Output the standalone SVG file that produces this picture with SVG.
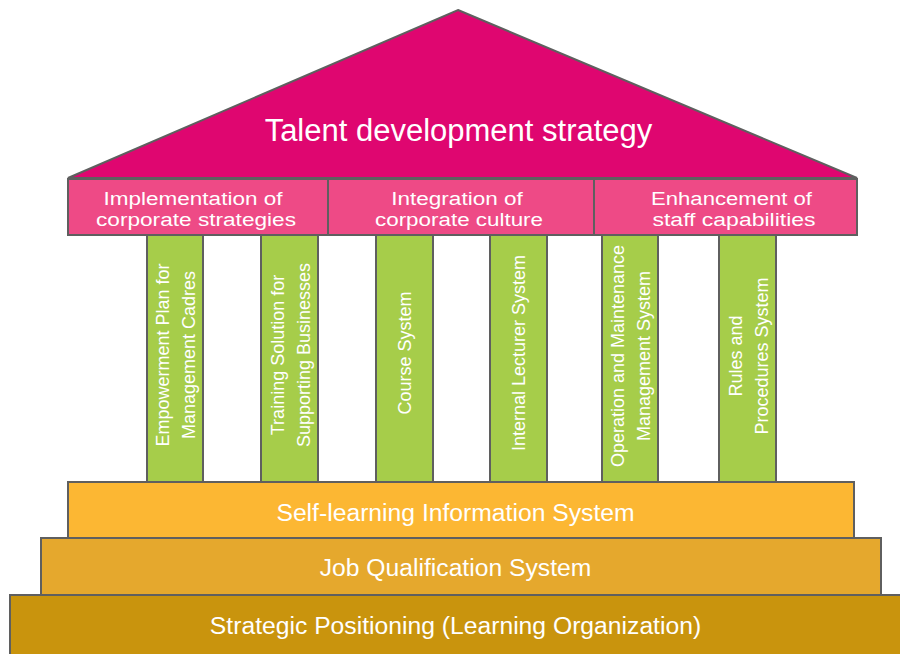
<svg xmlns="http://www.w3.org/2000/svg" width="900" height="654" viewBox="0 0 900 654">
<style>
.s{stroke:#5f5f5f;stroke-width:2}
.t{font-family:"Liberation Sans",Arial,sans-serif;fill:#fff;text-anchor:middle}
.beam{fill:#ee4a86}
.col{fill:#a6cd4a}
.ct{font-size:18px}
.bt{font-size:18.8px}
.lt{font-size:24.7px}
</style>
<rect width="900" height="654" fill="#fff"/>
<g id="roof">
<polygon class="s" points="458,10 857,178 68,178" fill="#df0670"/>
<text class="t" x="458.5" y="141" font-size="31">Talent development strategy</text>
</g>
<g id="beam1">
<rect class="s beam" x="68" y="179" width="260" height="56"/>
<text class="t bt" x="193" y="205" textLength="179" lengthAdjust="spacingAndGlyphs">Implementation of</text>
<text class="t bt" x="196" y="225.5" textLength="200" lengthAdjust="spacingAndGlyphs">corporate strategies</text>
</g>
<g id="beam2">
<rect class="s beam" x="328" y="179" width="266" height="56"/>
<text class="t bt" x="457" y="205" textLength="131.5" lengthAdjust="spacingAndGlyphs">Integration of</text>
<text class="t bt" x="459" y="225.5" textLength="168" lengthAdjust="spacingAndGlyphs">corporate culture</text>
</g>
<g id="beam3">
<rect class="s beam" x="594" y="179" width="263" height="56"/>
<text class="t bt" x="731.5" y="205" textLength="161" lengthAdjust="spacingAndGlyphs">Enhancement of</text>
<text class="t bt" x="734" y="225.5" textLength="163" lengthAdjust="spacingAndGlyphs">staff capabilities</text>
</g>
<g id="col1">
<rect class="s col" x="147" y="235" width="56" height="247"/>
<text class="t ct" transform="translate(175,355) rotate(-90)"><tspan x="0" y="-6">Empowerment Plan for</tspan><tspan x="0" y="20">Management Cadres</tspan></text>
</g>
<g id="col2">
<rect class="s col" x="261" y="235" width="57" height="247"/>
<text class="t ct" transform="translate(289.5,355) rotate(-90)"><tspan x="0" y="-6">Training Solution for</tspan><tspan x="0" y="20">Supporting Businesses</tspan></text>
</g>
<g id="col3">
<rect class="s col" x="376" y="235" width="57" height="247"/>
<text class="t ct" transform="translate(404.5,353) rotate(-90)" y="6.5">Course System</text>
</g>
<g id="col4">
<rect class="s col" x="490" y="235" width="57" height="247"/>
<text class="t ct" transform="translate(518.5,353) rotate(-90)" y="6.5">Internal Lecturer System</text>
</g>
<g id="col5">
<rect class="s col" x="602" y="235" width="56" height="247"/>
<text class="t ct" transform="translate(630,356) rotate(-90)"><tspan x="0" y="-6">Operation and Maintenance</tspan><tspan x="0" y="20">Management System</tspan></text>
</g>
<g id="col6">
<rect class="s col" x="719" y="235" width="57" height="247"/>
<text class="t ct" transform="translate(747.5,356) rotate(-90)"><tspan x="0" y="-6">Rules and</tspan><tspan x="0" y="20">Procedures System</tspan></text>
</g>
<g id="level1">
<rect class="s" x="68" y="482" width="786" height="56" fill="#fcb733"/>
<text class="t lt" x="455.5" y="521">Self-learning Information System</text>
</g>
<g id="level2">
<rect class="s" x="41" y="538" width="840" height="57" fill="#e5a82d"/>
<text class="t lt" x="455.5" y="576">Job Qualification System</text>
</g>
<g id="level3">
<rect class="s" x="10" y="595" width="900" height="70" fill="#c9940d"/>
<text class="t lt" x="455.5" y="634">Strategic Positioning (Learning Organization)</text>
</g>
</svg>
